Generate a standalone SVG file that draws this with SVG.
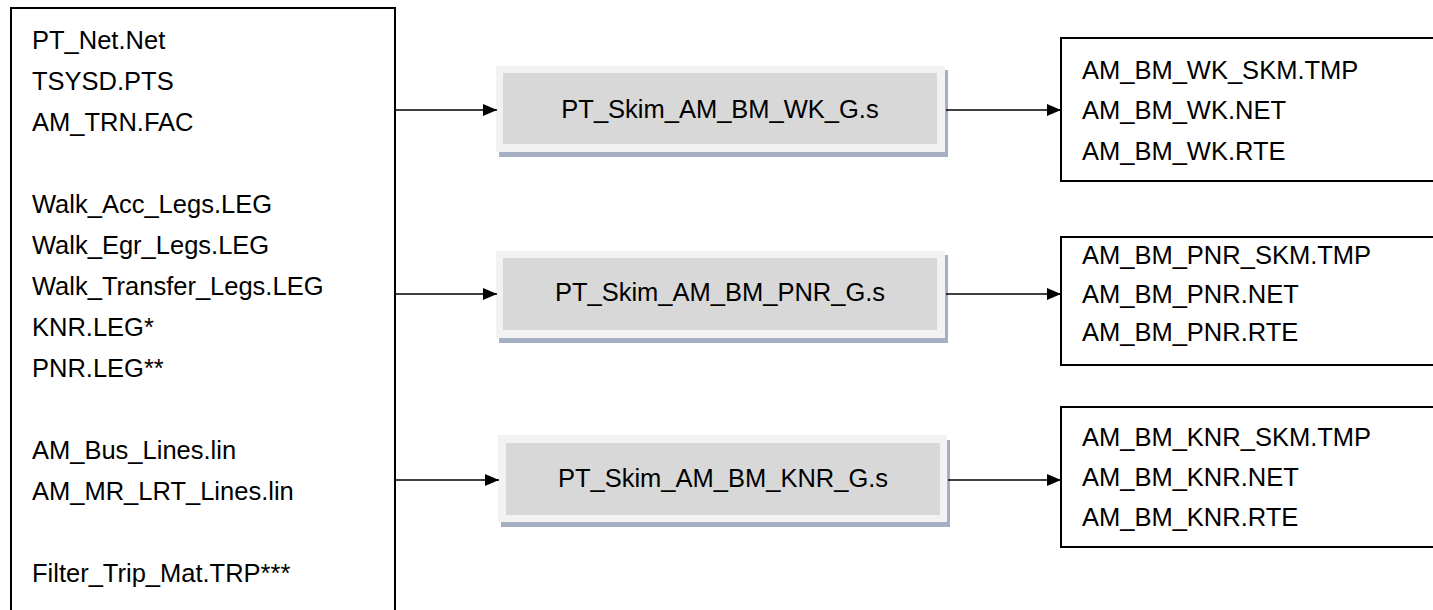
<svg xmlns="http://www.w3.org/2000/svg" width="1433" height="610" viewBox="0 0 1433 610">
  <style>
    .box { fill: #ffffff; stroke: #000000; stroke-width: 2; }
    .outer { fill: #f2f2f2; }
    .inner { fill: #d8d8d8; }
    .shadow { fill: #a4afc1; }
    .t { font-family: "Liberation Sans", Arial, sans-serif; font-size: 25.5px; fill: #000000; }
    .c { text-anchor: middle; }
    .conn { stroke: #000000; stroke-width: 1.6; fill: none; marker-end: url(#arr); }
  </style>
  <defs>
    <marker id="arr" markerUnits="userSpaceOnUse" markerWidth="14" markerHeight="12" refX="14" refY="6" orient="auto">
      <path d="M0,0 L14,6 L0,12 Z" fill="#000000"/>
    </marker>
  </defs>
  <rect width="1433" height="610" fill="#ffffff"/>

  <g id="inputs">
    <rect class="box" x="11" y="8" width="384" height="620"/>
    <text class="t" x="32" y="49">PT_Net.Net</text>
    <text class="t" x="32" y="90">TSYSD.PTS</text>
    <text class="t" x="32" y="131">AM_TRN.FAC</text>
    <text class="t" x="32" y="213">Walk_Acc_Legs.LEG</text>
    <text class="t" x="32" y="254">Walk_Egr_Legs.LEG</text>
    <text class="t" x="32" y="295">Walk_Transfer_Legs.LEG</text>
    <text class="t" x="32" y="336">KNR.LEG*</text>
    <text class="t" x="32" y="377">PNR.LEG**</text>
    <text class="t" x="32" y="459">AM_Bus_Lines.lin</text>
    <text class="t" x="32" y="500">AM_MR_LRT_Lines.lin</text>
    <text class="t" x="32" y="582">Filter_Trip_Mat.TRP***</text>
  </g>

  <g id="skim_wk">
    <rect class="shadow" x="499" y="70" width="449" height="87"/>
    <rect class="outer" x="496" y="66" width="449" height="86"/>
    <rect class="inner" x="503" y="73" width="434" height="71"/>
    <text class="t c" x="720" y="118">PT_Skim_AM_BM_WK_G.s</text>
  </g>

  <g id="skim_pnr">
    <rect class="shadow" x="499" y="255" width="449" height="88"/>
    <rect class="outer" x="496" y="251" width="449" height="87"/>
    <rect class="inner" x="503" y="258" width="434" height="72"/>
    <text class="t c" x="720" y="301">PT_Skim_AM_BM_PNR_G.s</text>
  </g>

  <g id="skim_knr">
    <rect class="shadow" x="501" y="440" width="449" height="87"/>
    <rect class="outer" x="498" y="435" width="449" height="87"/>
    <rect class="inner" x="506" y="443" width="434" height="72"/>
    <text class="t c" x="723" y="487">PT_Skim_AM_BM_KNR_G.s</text>
  </g>

  <g id="out_wk">
    <rect class="box" x="1061" y="38" width="390" height="143"/>
    <text class="t" x="1082" y="79">AM_BM_WK_SKM.TMP</text>
    <text class="t" x="1082" y="119">AM_BM_WK.NET</text>
    <text class="t" x="1082" y="160">AM_BM_WK.RTE</text>
  </g>

  <g id="out_pnr">
    <rect class="box" x="1061" y="237" width="390" height="128"/>
    <text class="t" x="1082" y="264">AM_BM_PNR_SKM.TMP</text>
    <text class="t" x="1082" y="303">AM_BM_PNR.NET</text>
    <text class="t" x="1082" y="341">AM_BM_PNR.RTE</text>
  </g>

  <g id="out_knr">
    <rect class="box" x="1061" y="407" width="390" height="140"/>
    <text class="t" x="1082" y="446">AM_BM_KNR_SKM.TMP</text>
    <text class="t" x="1082" y="486">AM_BM_KNR.NET</text>
    <text class="t" x="1082" y="526">AM_BM_KNR.RTE</text>
  </g>

  <g id="connectors">
    <line class="conn" x1="396" y1="110" x2="497" y2="110"/>
    <line class="conn" x1="396" y1="294" x2="497" y2="294"/>
    <line class="conn" x1="396" y1="480" x2="499" y2="480"/>
    <line class="conn" x1="946" y1="110" x2="1061" y2="110"/>
    <line class="conn" x1="946" y1="294" x2="1061" y2="294"/>
    <line class="conn" x1="948" y1="480" x2="1061" y2="480"/>
  </g>
</svg>
